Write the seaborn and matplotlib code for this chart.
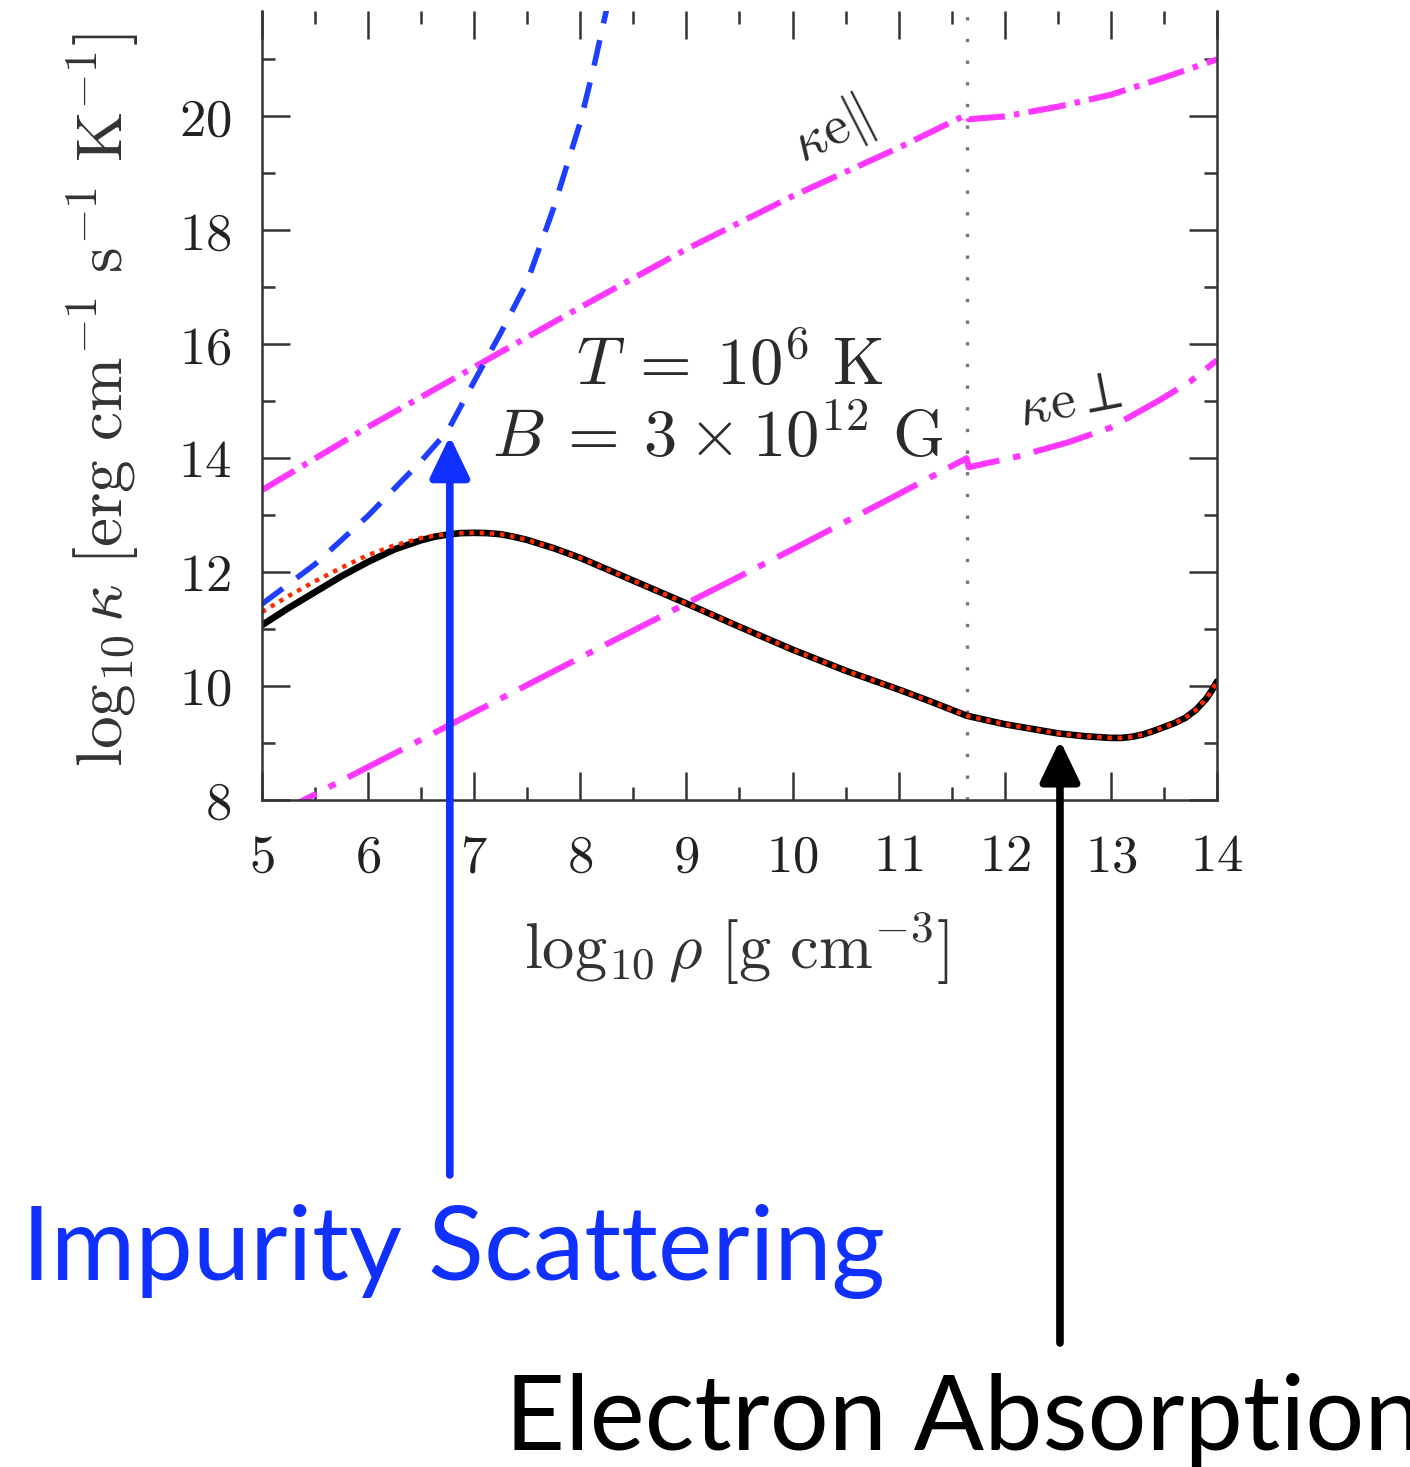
import numpy as np
import pandas as pd
import matplotlib
matplotlib.use("Agg")
import matplotlib.pyplot as plt
import seaborn as sns
from matplotlib.ticker import MultipleLocator, FuncFormatter

# ---------------- data ----------------
rho_total = [5.0, 5.25, 5.5, 5.75, 6.0, 6.25, 6.5, 6.625, 6.75, 6.875, 7.0, 7.125,
             7.25, 7.375, 7.5, 7.75, 8.0, 8.25, 8.5, 8.75, 9.0, 9.5, 10.0, 10.5,
             11.0, 11.3, 11.64, 12.0, 12.5, 12.75, 13.0, 13.1, 13.2, 13.3, 13.4,
             13.5, 13.6, 13.7, 13.8, 13.9, 13.95, 14.0]
kappa_total = [11.07, 11.37, 11.65, 11.93, 12.18, 12.40, 12.56, 12.62, 12.66, 12.685,
               12.69, 12.685, 12.665, 12.62, 12.565, 12.42, 12.25, 12.05, 11.85, 11.65,
               11.45, 11.04, 10.64, 10.27, 9.94, 9.73, 9.48, 9.33, 9.17, 9.12, 9.09,
               9.09, 9.11, 9.15, 9.21, 9.28, 9.35, 9.44, 9.58, 9.78, 9.92, 10.08]

rho_sum = [5.0, 5.25, 5.5, 5.75, 6.0, 6.25, 6.5, 6.625, 6.75, 6.875, 7.0, 7.125,
           7.25, 7.375, 7.5, 7.75, 8.0, 8.25, 8.5, 8.75, 9.0, 9.5, 10.0, 10.5,
           11.0, 11.3, 11.64, 12.0, 12.5, 12.75, 13.0, 13.1, 13.2, 13.3, 13.4,
           13.5, 13.6, 13.7, 13.8, 13.9, 13.95, 14.0]
kappa_sum = [11.30, 11.58, 11.84, 12.08, 12.30, 12.47, 12.60, 12.64, 12.67, 12.685,
             12.69, 12.685, 12.665, 12.62, 12.565, 12.42, 12.25, 12.05, 11.85, 11.65,
             11.45, 11.04, 10.64, 10.27, 9.94, 9.73, 9.48, 9.33, 9.17, 9.12, 9.09,
             9.09, 9.11, 9.15, 9.21, 9.28, 9.35, 9.44, 9.58, 9.78, 9.92, 10.08]

rho_imp = [5.0, 5.5, 6.0, 6.5, 6.75, 7.0, 7.25, 7.5, 7.75, 8.0, 8.125, 8.25]
kappa_imp = [11.44, 12.14, 12.99, 13.95, 14.48, 15.35, 16.2, 17.1, 18.4, 19.9, 20.85, 21.9]

rho_par = [5.0, 6.0, 7.0, 8.0, 9.0, 10.0, 11.0, 11.64, 11.66, 12.0, 12.5, 13.0, 13.5, 14.0]
kappa_par = [13.44, 14.55, 15.6, 16.65, 17.67, 18.6, 19.45, 20.03, 19.95, 20.0, 20.17,
             20.38, 20.68, 21.0]

rho_perp = [5.0, 6.0, 7.0, 8.0, 9.0, 10.0, 11.0, 11.64, 11.66, 11.8, 12.1, 12.6, 13.0,
            13.46, 13.75, 14.0]
kappa_perp = [7.62, 8.58, 9.54, 10.5, 11.45, 12.4, 13.37, 14.0, 13.84, 13.9, 14.02,
              14.28, 14.54, 15.02, 15.35, 15.72]

drip_density = 11.64
x_ticks = [5, 6, 7, 8, 9, 10, 11, 12, 13, 14]
y_ticks = [8, 10, 12, 14, 16, 18, 20]
arrow_imp = (6.77, 14.39)
arrow_abs = (12.52, 9.05)

# ---------------- style ----------------
sns.set_theme(style="ticks")
plt.rcParams["mathtext.fontset"] = "cm"
plt.rcParams["font.family"] = ["Lato", "DejaVu Sans"]

W, H = 1410, 1467
fig = plt.figure(figsize=(W / 100, H / 100), dpi=100)
ax = fig.add_axes([262 / W, 667 / H, 955 / W, 789 / H])

MAG = "#ff38ff"
BLUE = "#1f3fff"
TXT = "#2b2b2b"

sns.lineplot(x=rho_perp, y=kappa_perp, ax=ax, color=MAG, lw=4.4,
             estimator=None, sort=False)
ax.lines[-1].set_dashes([10, 2.3, 1.2, 2.3])
sns.lineplot(x=rho_par, y=kappa_par, ax=ax, color=MAG, lw=4.4,
             estimator=None, sort=False)
ax.lines[-1].set_dashes([6.2, 1.5, 0.9, 1.5])
sns.lineplot(x=rho_imp, y=kappa_imp, ax=ax, color=BLUE, lw=4.0,
             estimator=None, sort=False)
ax.lines[-1].set_dashes([4.7, 3.1])
sns.lineplot(x=rho_total, y=kappa_total, ax=ax, color="black", lw=4.8,
             estimator=None, sort=False, solid_joinstyle="round")
sns.lineplot(x=rho_sum, y=kappa_sum, ax=ax, color="#ff2a00", lw=3.2,
             estimator=None, sort=False)
ax.lines[-1].set_dashes([1, 1.3])
ax.axvline(drip_density, color="#777777", lw=2.4, dashes=[1, 5.5], zorder=1)

ax.set_xlim(5, 14)
ax.set_ylim(8, 21.85)
ax.xaxis.set_major_locator(plt.FixedLocator(x_ticks))
ax.yaxis.set_major_locator(plt.FixedLocator(y_ticks))
ax.xaxis.set_minor_locator(MultipleLocator(0.5))
ax.yaxis.set_minor_locator(MultipleLocator(1))
fmt = FuncFormatter(lambda v, p: f"${v:g}$")
ax.xaxis.set_major_formatter(fmt)
ax.yaxis.set_major_formatter(fmt)
ax.tick_params(which="both", direction="in", top=True, right=True,
               color="#333333", width=1.8)
ax.tick_params(which="major", length=20)
ax.tick_params(which="minor", length=9.5)
ax.tick_params(axis="x", which="major", labelsize=38, pad=24, labelcolor="#222222")
ax.tick_params(axis="y", which="major", labelsize=38, pad=22, labelcolor="#222222")
ax.spines["top"].set_visible(False)
for s in ["left", "right", "bottom"]:
    ax.spines[s].set_linewidth(1.8)
    ax.spines[s].set_color("#333333")

ax.set_xlabel(r"$\log_{10}\rho\ [\mathrm{g\ cm^{-3}}]$", fontsize=46.5, color="#333333")
ax.set_ylabel(r"$\log_{10}\kappa\ [\mathrm{erg\ cm^{-1}\ s^{-1}\ K^{-1}}]$",
              fontsize=47, color="#333333")
ax.xaxis.set_label_coords(0.497, -0.140)
ax.yaxis.set_label_coords(-0.126, 0.507)

# annotations inside plot
fig.text(730 / W, (H - 385) / H, r"$T\:=\:10^6\ \mathrm{K}$", fontsize=48,
         ha="center", va="baseline", color=TXT)
fig.text(718 / W, (H - 457) / H, r"$B\:=\:3 \times 10^{12}\ \mathrm{G}$", fontsize=48,
         ha="center", va="baseline", color=TXT)
fig.text(832 / W, (H - 132) / H, r"$\kappa\mathrm{e}\Vert$", fontsize=40,
         ha="center", va="center", rotation=27, color=TXT)
fig.text(1070 / W, (H - 400) / H, r"$\kappa\mathrm{e}\perp$", fontsize=40,
         ha="center", va="center", rotation=11, color=TXT)

# arrows
ax.annotate("", xy=arrow_imp, xycoords="data",
            xytext=(arrow_imp[0], H - 1175), textcoords=("data", "figure pixels"),
            annotation_clip=False,
            arrowprops=dict(arrowstyle="-|>,head_length=1.25,head_width=0.6",
                            mutation_scale=20, lw=5.5, color="#1030ff",
                            shrinkA=0, shrinkB=0))
ax.annotate("", xy=arrow_abs, xycoords="data",
            xytext=(arrow_abs[0], H - 1343), textcoords=("data", "figure pixels"),
            annotation_clip=False,
            arrowprops=dict(arrowstyle="-|>,head_length=1.25,head_width=0.6",
                            mutation_scale=20, lw=5.5, color="black",
                            shrinkA=0, shrinkB=0))

fig.text(22 / W, (H - 1280) / H, "Impurity Scattering", fontsize=74,
         family=["Lato", "DejaVu Sans"], color="#1030ff", ha="left", va="baseline")
fig.text(505 / W, (H - 1450) / H, "Electron Absorption", fontsize=75,
         family=["Lato", "DejaVu Sans"], color="black", ha="left", va="baseline")

fig.savefig("out.png", dpi=100)
